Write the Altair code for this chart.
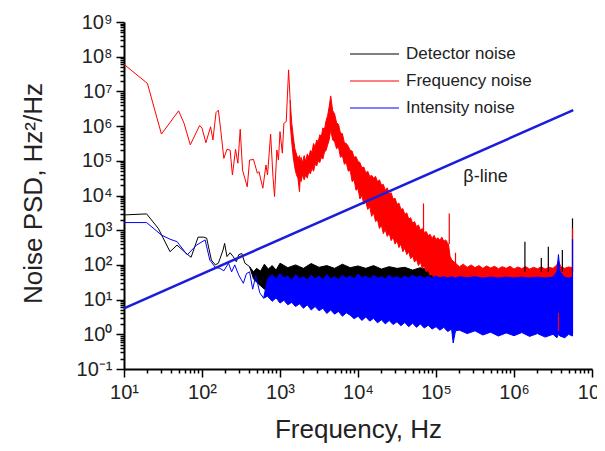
import altair as alt
import pandas as pd

FONT = "Liberation Sans"

# ---------------- values (log10 of Hz and of Hz^2/Hz) ----------------
# Frequency noise (red): sparse low-frequency trace
red_line_lf = [1.00, 1.30, 1.48, 1.70, 1.77, 1.85, 1.97, 2.00, 2.05, 2.11, 2.14, 2.18, 2.21, 2.24, 2.28,
               2.32, 2.36, 2.39, 2.43, 2.46, 2.49, 2.52, 2.58, 2.61, 2.66, 2.71, 2.73, 2.78, 2.82, 2.84,
               2.88, 2.91, 2.93, 2.96, 2.98, 3.00, 3.03, 3.05, 3.08, 3.11, 3.13]
red_line_lp = [7.78, 7.23, 5.77, 6.44, 6.08, 5.46, 6.02, 5.94, 5.52, 5.98, 5.60, 6.39, 6.46, 5.89, 5.07,
               5.33, 5.31, 4.59, 5.33, 4.93, 5.91, 4.73, 4.25, 5.02, 5.04, 4.64, 4.69, 4.21, 4.88, 4.59,
               5.77, 4.54, 3.97, 5.31, 5.02, 5.84, 5.22, 6.08, 6.13, 7.62, 6.75]

# Frequency noise (red): dense part, upper / lower edge
red_band_lf = [3.13, 3.15, 3.17, 3.19, 3.21, 3.23, 3.25, 3.26, 3.27, 3.29, 3.31, 3.33, 3.35, 3.37, 3.39,
               3.41, 3.43, 3.45, 3.47, 3.49, 3.51, 3.53, 3.55, 3.57, 3.59, 3.61, 3.63,
               3.650, 3.675, 3.700, 3.725, 3.750, 3.775, 3.800, 3.825, 3.850, 3.875, 3.900, 3.925, 3.950,
               3.975, 4.000, 4.025, 4.050, 4.075, 4.100, 4.125, 4.150, 4.175, 4.200, 4.225, 4.250, 4.275,
               4.300, 4.325, 4.350, 4.375, 4.400, 4.425, 4.450, 4.475, 4.500, 4.525, 4.550, 4.575, 4.600,
               4.625, 4.650, 4.675, 4.700, 4.725, 4.750, 4.775, 4.800, 4.825, 4.850, 4.875, 4.900, 4.925,
               4.950, 4.975, 5.000, 5.025, 5.050, 5.075, 5.100, 5.125, 5.150,
               5.16, 5.18, 5.20, 5.25, 5.30, 5.35, 5.40, 5.45, 5.50, 5.55, 5.60, 5.65, 5.70, 5.75, 5.80,
               5.85, 5.90, 5.95, 6.00, 6.05, 6.10, 6.15, 6.20, 6.25, 6.30, 6.35, 6.40, 6.45, 6.50, 6.55,
               6.57, 6.60, 6.65, 6.70, 6.75]
red_band_hi = [6.75, 6.10, 5.70, 5.35, 5.20, 5.05, 5.15, 4.95, 5.10, 4.95, 5.15, 4.98, 5.20, 5.10, 5.30,
               5.25, 5.50, 5.40, 5.60, 5.55, 5.75, 5.70, 5.95, 5.90, 6.15, 6.30, 6.55,
               6.87, 6.45, 6.35, 6.10, 6.05, 5.80, 5.78, 5.52, 5.50, 5.42, 5.30, 5.28, 5.10,
               5.12, 4.98, 4.95, 4.80, 4.82, 4.65, 4.70, 4.55, 4.58, 4.50, 4.55, 4.40, 4.45,
               4.30, 4.32, 4.15, 4.22, 4.05, 4.08, 3.90, 3.92, 3.75, 3.78, 3.60, 3.62, 3.45,
               3.50, 3.32, 3.36, 3.20, 3.25, 3.10, 3.15, 3.00, 3.05, 2.93, 2.96, 2.84, 2.88,
               2.76, 2.85, 2.73, 2.78, 2.71, 2.80, 2.68, 2.72, 2.62,
               2.60, 2.25, 2.15, 2.05, 1.95, 2.02, 1.93, 2.00, 1.92, 1.98, 1.90, 1.97, 1.91, 1.96, 1.89,
               1.95, 1.90, 1.96, 1.88, 1.94, 1.89, 1.95, 1.88, 1.93, 1.89, 1.94, 1.88, 1.93, 1.90, 2.00,
               2.12, 1.95, 1.90, 1.94, 1.92]
red_band_lo = [6.10, 5.55, 5.10, 4.80, 4.60, 4.50, 4.11, 4.55, 4.40, 4.60, 4.45, 4.60, 4.50, 4.70, 4.62,
               4.80, 4.70, 4.90, 4.85, 5.00, 4.95, 5.10, 5.05, 5.25, 5.30, 5.45, 5.60,
               5.90, 5.60, 5.55, 5.35, 5.40, 5.10, 5.15, 4.90, 4.95, 4.70, 4.73, 4.40, 4.45,
               4.15, 4.20, 3.90, 4.00, 3.75, 3.82, 3.60, 3.68, 3.40, 3.50, 3.25, 3.30, 3.05,
               3.15, 2.90, 3.02, 2.82, 2.92, 2.70, 2.80, 2.60, 2.70, 2.50, 2.60, 2.38, 2.48,
               2.30, 2.38, 2.18, 2.26, 2.08, 2.16, 1.98, 2.08, 1.90, 1.97, 1.80, 1.85, 1.70,
               1.73, 1.62, 1.64, 1.60, 1.60, 1.60, 1.60, 1.58, 1.58,
               1.57, 1.57, 1.57, 1.57, 1.57, 1.57, 1.57, 1.57, 1.57, 1.57, 1.57, 1.57, 1.57, 1.57, 1.57,
               1.57, 1.57, 1.57, 1.57, 1.57, 1.57, 1.57, 1.57, 1.57, 1.57, 1.57, 1.57, 1.57, 1.57, 1.57,
               1.57, 1.57, 1.57, 1.57, 1.57]

# Detector noise (black)
det_line_lf = [1.00, 1.29, 1.44, 1.59, 1.68, 1.81, 1.86, 1.95, 2.02, 2.06, 2.12, 2.17, 2.21, 2.27, 2.29,
               2.32, 2.36, 2.40, 2.44, 2.47, 2.51, 2.55, 2.61]
det_line_lp = [3.44, 3.47, 3.05, 2.38, 2.57, 2.31, 2.22, 2.80, 2.80, 2.77, 2.14, 2.00, 2.05, 2.43, 2.62,
               2.24, 2.35, 2.24, 2.09, 2.29, 2.33, 2.05, 1.95]
det_band_lf = [2.61, 2.66, 2.70, 2.75, 2.80, 2.85, 2.90, 2.95, 3.00, 3.10, 3.20, 3.30, 3.40, 3.50, 3.60,
               3.70, 3.80, 3.90, 4.00, 4.10, 4.20, 4.30, 4.40, 4.50, 4.60, 4.70, 4.80, 4.90, 5.00, 5.20,
               5.50, 5.80, 6.10, 6.40, 6.75]
det_band_hi = [1.95, 1.80, 1.90, 1.82, 2.02, 1.88, 1.98, 1.85, 2.05, 1.92, 2.00, 1.90, 2.04, 1.93, 1.98,
               1.90, 2.02, 1.92, 1.97, 1.90, 1.98, 1.88, 1.95, 1.90, 1.93, 1.85, 1.92, 1.86, 1.85, 1.80,
               1.80, 1.80, 1.80, 1.80, 1.80]
det_band_lo = [1.95, 1.60, 1.50, 1.40, 1.30, 1.25, 1.20, 1.20, 1.20, 1.20, 1.20, 1.20, 1.20, 1.20, 1.20,
               1.20, 1.20, 1.20, 1.20, 1.20, 1.20, 1.20, 1.20, 1.20, 1.20, 1.20, 1.20, 1.20, 1.20, 1.20,
               1.20, 1.20, 1.20, 1.20, 1.20]

# Intensity noise (blue)
int_line_lf = [1.00, 1.29, 1.48, 1.59, 1.68, 1.81, 1.93, 2.04, 2.10, 2.17, 2.23, 2.28, 2.34, 2.38, 2.42,
               2.47, 2.53, 2.57, 2.61, 2.65, 2.69, 2.74, 2.79]
int_line_lp = [3.22, 3.22, 2.86, 2.74, 2.67, 2.29, 2.57, 2.72, 2.14, 1.93, 1.90, 1.83, 2.05, 1.80, 2.00,
               1.71, 1.47, 1.75, 1.80, 1.30, 1.70, 1.20, 1.04]
int_band_lf = [2.79, 2.84, 2.90, 2.95, 3.00, 3.05, 3.10, 3.15, 3.20, 3.25, 3.30, 3.35, 3.40, 3.45, 3.50,
               3.55, 3.60, 3.65, 3.70, 3.75, 3.80, 3.85, 3.90, 3.95, 4.00, 4.05, 4.10, 4.15, 4.20, 4.25,
               4.30, 4.35, 4.40, 4.45, 4.50, 4.55, 4.60, 4.65, 4.70, 4.75, 4.80, 4.85, 4.90, 4.95, 5.00,
               5.05, 5.10, 5.15, 5.20, 5.22, 5.25, 5.30, 5.40, 5.50, 5.60, 5.70, 5.80, 5.90, 6.00, 6.10,
               6.20, 6.30, 6.40, 6.50, 6.55, 6.57, 6.59, 6.65, 6.70, 6.75]
int_band_hi = [1.04, 1.60, 1.72, 1.58, 1.75, 1.62, 1.68, 1.55, 1.72, 1.60, 1.66, 1.56, 1.70, 1.60, 1.68,
               1.58, 1.72, 1.60, 1.66, 1.58, 1.70, 1.62, 1.68, 1.60, 1.74, 1.62, 1.68, 1.60, 1.70, 1.62,
               1.66, 1.60, 1.70, 1.62, 1.66, 1.60, 1.68, 1.62, 1.70, 1.64, 1.68, 1.62, 1.66, 1.62, 1.68,
               1.63, 1.66, 1.62, 1.66, 1.64, 1.62, 1.66, 1.63, 1.66, 1.62, 1.65, 1.62, 1.65, 1.62, 1.65,
               1.62, 1.65, 1.62, 1.65, 1.80, 2.30, 1.80, 1.64, 1.62, 1.65]
int_band_lo = [1.04, 1.10, 0.95, 1.05, 0.90, 0.98, 0.85, 0.92, 0.80, 0.88, 0.75, 0.85, 0.70, 0.80, 0.68,
               0.75, 0.60, 0.70, 0.58, 0.66, 0.52, 0.62, 0.55, 0.45, 0.52, 0.40, 0.50, 0.38, 0.46, 0.33,
               0.42, 0.30, 0.40, 0.28, 0.36, 0.25, 0.34, 0.22, 0.32, 0.20, 0.30, 0.18, 0.26, 0.15, 0.22,
               0.12, 0.20, 0.08, 0.15, -0.25, 0.10, 0.12, 0.02, 0.10, -0.02, 0.06, -0.05, 0.04, -0.04, 0.05,
               -0.06, 0.02, -0.08, 0.00, -0.10, 0.00, -0.05, -0.10, 0.00, -0.05]

# isolated spikes
spike_series = ["Detector noise"] * 5 + ["Frequency noise"] * 5 + ["Intensity noise"]
spike_lf = [6.14, 6.35, 6.44, 6.62, 6.75, 4.84, 5.17, 5.25, 6.75, 6.57, 6.75]
spike_top = [2.67, 2.20, 2.52, 2.43, 3.34, 3.77, 3.48, 2.35, 3.05, 0.62, 2.74]
spike_bot = [1.80, 1.80, 1.80, 1.80, 1.80, 2.90, 2.60, 1.90, 1.80, 0.10, 0.00]

# beta-line (two end points)
beta_lf = [1.00, 6.76]
beta_lp = [0.75, 6.46]
beta_label = "β-line"
beta_label_lf = 5.35
beta_label_lp = 4.53

legend_labels = ["Detector noise", "Frequency noise", "Intensity noise"]
legend_colors = ["#000000", "#ff0000", "#0000ff"]

x_ticks = [m * 10 ** k for k in range(1, 7) for m in range(1, 10)] + [1e7]
y_ticks = [m * 10.0 ** k for k in range(-1, 9) for m in range(1, 10)] + [1e9]


def line_df(lf, lp):
    return pd.DataFrame({"f": [10 ** v for v in lf], "p": [10 ** v for v in lp]})


def band_df(lf, hi, lo):
    return pd.DataFrame({"f": [10 ** v for v in lf], "hi": [10 ** v for v in hi], "lo": [10 ** v for v in lo]})


IS_DEC = "abs(log(datum.value)/LN10 - round(log(datum.value)/LN10)) < 0.01"
SUP = "['⁰','¹','²','³','⁴','⁵','⁶','⁷','⁸','⁹']"
LABEL_EXPR = (f"{IS_DEC} ? '10' + (round(log(datum.value)/LN10) < 0 ? '⁻¹' : "
              f"{SUP}[round(log(datum.value)/LN10)]) : ''")
TICK_SIZE = {"condition": {"test": IS_DEC, "value": 8}, "value": 4}

xscale = alt.Scale(type="log", domain=[10, 1e7], nice=False)
yscale = alt.Scale(type="log", domain=[0.1, 1e9], nice=False)

xaxis = alt.Axis(values=x_ticks, labelExpr=LABEL_EXPR, tickSize=TICK_SIZE, labelOverlap=False,
                 labelFlush=False, grid=False, title="Frequency, Hz", titleX=234, titleY=68,
                 titleBaseline="alphabetic", labelPadding=5)
yaxis = alt.Axis(values=y_ticks, labelExpr=LABEL_EXPR, tickSize=TICK_SIZE, labelOverlap=False,
                 labelFlush=False, grid=False, title="Noise PSD, Hz²/Hz", titleX=-91, titleY=171,
                 titleAngle=-90, titleAlign="center", titleBaseline="middle", labelPadding=4)


def X(field="f"):
    return alt.X(f"{field}:Q", scale=xscale, axis=xaxis)


def Y(field):
    return alt.Y(f"{field}:Q", scale=yscale, axis=yaxis)


def band(df, col):
    return (alt.Chart(df).mark_area(color=col, opacity=1, stroke=col, strokeWidth=1)
            .encode(x=X(), y=Y("hi"), y2="lo:Q"))


def trace(df, col, width=1.0):
    return alt.Chart(df).mark_line(color=col, strokeWidth=width).encode(x=X(), y=Y("p"))


layers = [
    trace(line_df(det_line_lf, det_line_lp), "#000000"),
    band(band_df(det_band_lf, det_band_hi, det_band_lo), "#000000"),
    trace(line_df(red_line_lf, red_line_lp), "#ff0000"),
    band(band_df(red_band_lf, red_band_hi, red_band_lo), "#ff0000"),
    trace(line_df(int_line_lf, int_line_lp), "#0000ff"),
    band(band_df(int_band_lf, int_band_hi, int_band_lo), "#0000ff"),
]

spikes = pd.DataFrame({
    "f": [10 ** v for v in spike_lf],
    "top": [10 ** v for v in spike_top],
    "bot": [10 ** v for v in spike_bot],
    "series": spike_series,
})
layers.append(alt.Chart(spikes).mark_rule(strokeWidth=1.2)
              .encode(x=X(), y=Y("top"), y2="bot:Q",
                      color=alt.Color("series:N", scale=alt.Scale(domain=legend_labels, range=legend_colors),
                                      legend=None)))
layers.append(trace(line_df(beta_lf, beta_lp), "#1c1cdc", 2.5))
layers.append(alt.Chart(pd.DataFrame({"f": [10 ** beta_label_lf], "p": [10 ** beta_label_lp],
                                      "t": [beta_label]}))
              .mark_text(align="left", baseline="middle", fontSize=18, font=FONT, color="#222222")
              .encode(x=X(), y=Y("p"), text="t:N"))

# legend
dummy = pd.DataFrame({"a": [0]})
for i, (lab, col) in enumerate(zip(legend_labels, legend_colors)):
    yy = 32 + 27 * i
    layers.append(alt.Chart(dummy).mark_rule(color=col, strokeWidth=1.2)
                  .encode(x=alt.value(226), x2=alt.value(275), y=alt.value(yy)))
    layers.append(alt.Chart(dummy).mark_text(text=lab, align="left", baseline="middle", fontSize=17,
                                             font=FONT, color="#222222")
                  .encode(x=alt.value(282), y=alt.value(yy)))

chart = (
    alt.layer(*layers)
    .properties(width=468, height=347,
                padding={"left": 116, "top": 14, "right": 5, "bottom": 74},
                autosize=alt.AutoSizeParams(type="none"))
    .configure_view(stroke=None)
    .configure_axis(domainColor="#000000", domainWidth=2, tickColor="#000000", tickWidth=1.5,
                    labelFont=FONT, labelFontSize=20, labelColor="#222222",
                    titleFont=FONT, titleFontSize=26, titleFontWeight="normal", titleColor="#222222")
)

chart.save("out.html", embed_options={"renderer": "svg", "actions": False})
